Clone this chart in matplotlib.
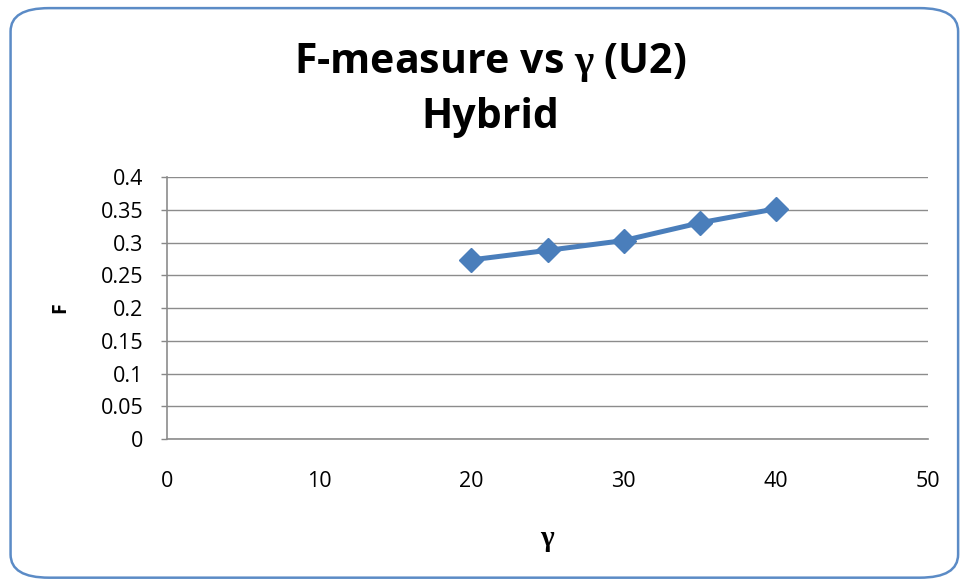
import matplotlib.pyplot as plt
from matplotlib.patches import FancyBboxPatch

# data
gamma = [20, 25, 30, 35, 40]
fmeasure = [0.2735, 0.288, 0.303, 0.330, 0.3515]
yticks = [0, 0.05, 0.1, 0.15, 0.2, 0.25, 0.3, 0.35, 0.4]
ytick_labels = ["0", "0.05", "0.1", "0.15", "0.2", "0.25", "0.3", "0.35", "0.4"]
xticks = [0, 10, 20, 30, 40, 50]

plt.rcParams['font.family'] = ['Open Sans', 'DejaVu Sans']
# serif gamma through mathtext
plt.rcParams['mathtext.fontset'] = 'custom'
plt.rcParams['mathtext.rm'] = 'Liberation Serif'
plt.rcParams['mathtext.bf'] = 'Liberation Serif:bold'

fig = plt.figure(figsize=(9.61, 5.8), dpi=100)

# rounded chart border
border = FancyBboxPatch((0.011, 0.004), 0.986, 0.982,
                        boxstyle="round,pad=0,rounding_size=0.04",
                        transform=fig.transFigure, facecolor='white',
                        edgecolor='#5B8BC6', linewidth=1.8, zorder=-1)
fig.patches.append(border)

ax = fig.add_axes([0.1738, 0.2431, 0.7919, 0.4517])
ax.set_zorder(2)
ax.patch.set_alpha(0)

ax.plot(gamma, fmeasure, color='#4A7EBB', linewidth=3.6, marker='D',
        markersize=12.5, zorder=3, clip_on=False)

ax.set_xlim(0, 50)
ax.set_ylim(0, 0.4)
ax.set_xticks(xticks)
ax.set_yticks(yticks)
ax.set_yticklabels(ytick_labels)
ax.tick_params(axis='both', labelsize=15.5, colors='#888888', labelcolor='black',
               length=4, width=1)
ax.tick_params(axis='x', length=0, pad=23)
ax.tick_params(axis='y', pad=13)

ax.grid(axis='y', color='#8C8C8C', linewidth=1)
ax.set_axisbelow(True)
for side in ['top', 'right']:
    ax.spines[side].set_visible(False)
for side in ['left', 'bottom']:
    ax.spines[side].set_color('#8C8C8C')
    ax.spines[side].set_linewidth(1.2)

ax.set_ylabel("F", fontsize=14, fontweight='bold', va='center')
ax.yaxis.set_label_coords(-0.1406, 0.5)
ax.set_xlabel(r"$\mathbf{γ}$", fontsize=21, va='center')
ax.xaxis.set_label_coords(0.5, -0.382)

fig.text(0.51, 0.892, r"F-measure vs $\mathbf{γ}$ (U2)", ha='center', va='center',
         fontsize=29.5, fontweight='bold')
fig.text(0.51, 0.797, "Hybrid", ha='center', va='center',
         fontsize=29.5, fontweight='bold')

fig.savefig("out.png", dpi=100)
